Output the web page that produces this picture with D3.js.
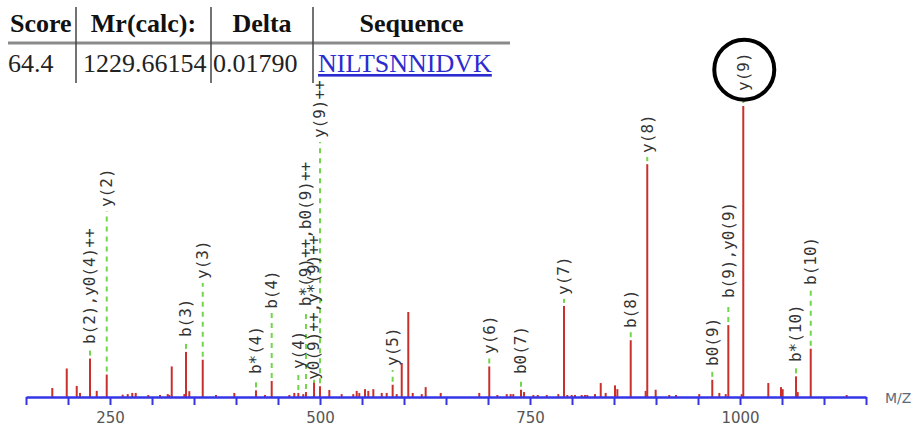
<!DOCTYPE html>
<html lang="en">
<head>
<meta charset="utf-8">
<script src="https://cdn.jsdelivr.net/npm/d3@7"></script>
<style>
  body { margin: 0; background: #fff; }
  svg { display: block; }
</style>
</head>
<body>
<div id="chart"></div>
<script>
// result table
var tableHeaders = ["Score", "Mr(calc):", "Delta", "Sequence"];
var tableValues = ["64.4", "1229.66154", "0.01790", "NILTSNNIDVK"];

// peak list: m/z and relative intensity (%)
var mz = [181.3, 198.5, 210.4, 214.3, 226.2, 234.2, 246.1, 265.1, 271.1, 276.5,
  280.6, 295.6, 309.5, 318.7, 320.6, 323.5, 338.5, 340.5, 344.4, 360.4,
  376.2, 398.0, 423.8, 434.5, 442.5, 463.5, 469.4, 474.2, 480.1, 483.3,
  492.9, 500.0, 511.1, 525.8, 539.6, 543.7, 546.8, 553.6, 557.5, 563.5,
  573.5, 579.4, 586.5, 591.3, 597.3, 605.1, 610.4, 621.1, 625.8, 643.7,
  689.6, 701.5, 711.1, 722.3, 727.0, 730.1, 739.3, 742.9, 754.0, 759.2,
  769.9, 783.7, 790.5, 794.4, 799.6, 803.6, 811.5, 815.5, 818.2, 827.4,
  834.2, 840.1, 851.2, 854.0, 869.9, 887.7, 889.6, 899.6, 915.8, 923.8,
  951.5, 967.0, 975.4, 983.0, 986.1, 1002.0, 1003.9, 1033.7, 1048.8, 1050.8,
  1066.7, 1068.7, 1084.2, 1127.0];
var intensity = [3.1, 9.8, 3.8, 1.4, 13.2, 2.1, 7.7, 0.8, 1.0, 1.4,
  1.4, 0.7, 0.7, 1.0, 0.7, 10.5, 1.0, 15.5, 2.0, 12.8,
  0.7, 1.4, 2.3, 0.7, 5.5, 0.7, 1.4, 1.4, 1.0, 1.7,
  4.9, 3.7, 2.4, 1.0, 1.0, 2.1, 1.4, 2.7, 2.1, 2.7,
  1.4, 1.4, 4.2, 1.0, 11.7, 29.2, 1.4, 1.0, 3.4, 1.4,
  1.4, 10.5, 0.7, 1.0, 1.0, 1.0, 2.5, 1.7, 0.7, 0.7,
  0.7, 1.0, 31.3, 0.7, 0.7, 0.7, 0.7, 0.7, 0.7, 1.0,
  4.8, 1.4, 4.0, 2.7, 19.5, 2.1, 80.0, 2.5, 0.7, 0.7,
  1.0, 5.9, 1.4, 1.0, 24.7, 1.0, 100, 4.8, 3.4, 2.7,
  7.1, 1.7, 16.6, 0.7];

// matched ions: peak m/z, label, level (intensity units) where the label starts
var labelMz = [226.2, 246.1, 340.5, 360.4, 423.8, 442.5, 474.2, 483.3, 492.9, 500.0,
  586.5, 701.5, 739.3, 790.5, 869.9, 889.6, 967.0, 986.1, 1003.9, 1066.7, 1084.2];
var labelText = ["b(2),y0(4)++", "y(2)", "b(3)", "y(3)", "b*(4)", "b(4)", "y(4)",
  "b*(9)++,b0(9)++", "y0(9)++,y*(9)++", "y(9)++", "y(5)", "y(6)", "b0(7)", "y(7)",
  "b(8)", "y(8)", "b0(9)", "b(9),y0(9)", "y(9)", "b*(10)", "b(10)"];
var labelLevel = [17.5, 64.6, 19.9, 39.9, 7.2, 29.6, 8.9, 30.5, 5.2, 88.3,
  10.0, 14.1, 7.2, 34.4, 23.0, 83.2, 10.0, 33.3, 104.5, 11.3, 37.8];

var tickValues = d3.range(150, 1151, 50);
var tickLabels = [250, 500, 750, 1000];
var circledIon = "y(9)";

var width = 914, height = 427;
var svg = d3.select("#chart").append("svg")
  .attr("width", width).attr("height", height);

// ---- table ----
var cols = [8, 76, 211, 313, 510];
var serif = "'Liberation Serif', 'Times New Roman', serif";

svg.append("line").attr("x1", cols[0]).attr("x2", cols[4])
  .attr("y1", 43).attr("y2", 43)
  .attr("stroke", "#8a8a8a").attr("stroke-width", 3);

[1, 2, 3].forEach(function (i) {
  svg.append("line").attr("x1", cols[i]).attr("x2", cols[i])
    .attr("y1", 7).attr("y2", 83)
    .attr("stroke", "#444").attr("stroke-width", 1.5);
});

svg.selectAll(".th").data(tableHeaders).enter().append("text")
  .attr("class", "th")
  .attr("x", function (d, i) { return i == 0 ? cols[0] + 2 : (cols[i] + cols[i + 1]) / 2; })
  .attr("y", 32)
  .attr("text-anchor", function (d, i) { return i == 0 ? "start" : "middle"; })
  .style("font-family", serif).style("font-size", "26px").style("font-weight", "bold")
  .attr("fill", "#111")
  .text(function (d) { return d; });

svg.selectAll(".td").data(tableValues).enter().append("text")
  .attr("class", "td")
  .attr("x", function (d, i) { return i == 0 ? cols[0] : cols[i] + (i == 1 ? 7 : i == 2 ? 2 : 5); })
  .attr("y", 72)
  .style("font-family", serif).style("font-size", "26px")
  .attr("fill", function (d, i) { return i == 3 ? "#2b2bd0" : "#222"; })
  .style("text-decoration", function (d, i) { return i == 3 ? "underline" : null; })
  .text(function (d) { return d; });

// ---- spectrum ----
var x = d3.scaleLinear().domain([150, 1150]).range([26, 866]);
var y = d3.scaleLinear().domain([0, 100]).range([397, 106]);

var labelFont = 16;
var charW = labelFont * 0.602;

var ions = labelMz.map(function (m, i) {
  var k = mz.indexOf(m);
  return { mz: m, text: labelText[i], level: labelLevel[i], inten: intensity[k] };
});

// dashed leaders
svg.selectAll(".lead").data(ions).enter().append("line")
  .attr("class", "lead")
  .attr("x1", function (d) { return x(d.mz); })
  .attr("x2", function (d) { return x(d.mz); })
  .attr("y1", function (d) { return y(d.inten) - 3; })
  .attr("y2", function (d) { return y(d.level) + 2; })
  .attr("stroke", "#72d64a").attr("stroke-width", 2)
  .attr("stroke-dasharray", "5,5");

// peaks
svg.selectAll(".peak").data(mz).enter().append("line")
  .attr("class", "peak")
  .attr("x1", function (d) { return x(d); })
  .attr("x2", function (d) { return x(d); })
  .attr("y1", y(0))
  .attr("y2", function (d, i) { return y(intensity[i]); })
  .attr("stroke", "#c9302c").attr("stroke-width", 2);

// ion labels
svg.selectAll(".ion").data(ions).enter().append("text")
  .attr("class", "ion")
  .attr("transform", function (d) {
    return "translate(" + x(d.mz) + "," + (y(d.level) - 2) + ") rotate(-90)";
  })
  .attr("dy", "0.33em")
  .style("font-family", "'DejaVu Sans Mono', monospace")
  .style("font-size", labelFont + "px")
  .attr("fill", "#333")
  .text(function (d) { return d.text; });

// circle round the main ion
var main = ions.filter(function (d) { return d.text == circledIon; })[0];
svg.append("circle")
  .attr("cx", x(main.mz) + 1)
  .attr("cy", y(main.level) - 4 - main.text.length * charW / 2)
  .attr("r", 30)
  .attr("fill", "none").attr("stroke", "#000").attr("stroke-width", 4);

// axis
var axis = svg.append("g")
  .attr("transform", "translate(0," + y(0) + ")")
  .call(d3.axisBottom(x).tickValues(tickValues).tickSize(8).tickSizeOuter(0).tickPadding(7)
    .tickFormat(function (d) { return tickLabels.indexOf(d) >= 0 ? d : ""; }));
axis.select(".domain").attr("stroke", "#3535e8").attr("stroke-width", 2.5);
axis.selectAll(".tick line").attr("stroke", "#3535e8").attr("stroke-width", 2);
axis.selectAll(".tick text")
  .style("font-family", "'DejaVu Sans', sans-serif").style("font-size", "15px")
  .attr("fill", "#555");

svg.append("text").attr("x", 885).attr("y", 403)
  .style("font-family", "'DejaVu Sans', sans-serif").style("font-size", "14px")
  .attr("fill", "#5b6b7b")
  .text("M/Z");
</script>
</body>
</html>
